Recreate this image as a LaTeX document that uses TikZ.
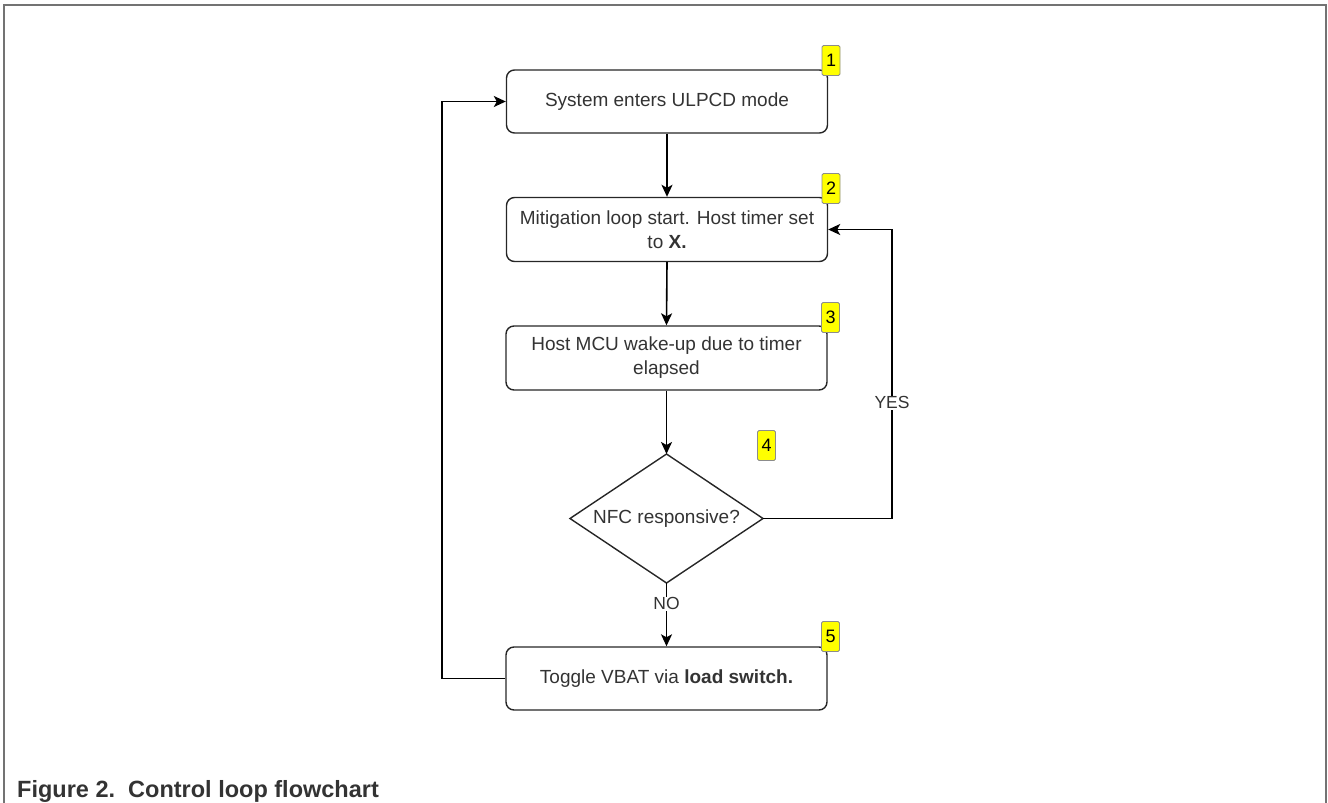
\documentclass[tikz,border=0pt]{standalone}
\usepackage{fontspec}
\setmainfont{Liberation Sans}
\usetikzlibrary{shapes.geometric,arrows.meta}
\definecolor{txt}{HTML}{333333}
\definecolor{badgey}{HTML}{FFFF00}
\begin{document}
\begin{tikzpicture}[x=1pt,y=-1pt,
  stepbox/.style={draw=black!85,line width=1.4pt,rounded corners=8pt,
    minimum width=321pt,inner sep=0pt,align=center,text=txt,
    font=\fontsize{19}{24}\selectfont},
  dectext/.style={text=txt,inner sep=0pt,font=\fontsize{19}{24}\selectfont},
  badge/.style={draw=black!45,fill=badgey,line width=0.8pt,rounded corners=1.5pt,
    minimum width=18pt,minimum height=30pt,inner sep=0pt,
    font=\fontsize{18}{20}\selectfont},
  conn/.style={draw=black,line width=1.6pt,-{Stealth[length=12pt,width=11pt,inset=3pt]}},
  lbl/.style={fill=white,text=txt,inner sep=1pt,font=\fontsize{17.5}{20}\selectfont},
]
\useasboundingbox (0,0) rectangle (1328,803);
\draw[black!55,line width=2pt] (4,803) -- (4,5) -- (1326,5) -- (1326,803);

\node[stepbox,minimum height=63pt] (b1) at (667,101.5) {System enters ULPCD mode};
\node[stepbox,minimum height=64pt] (b2) at (667,229.5) {Mitigation loop start. Host timer set\\to \textbf{X.}};
\node[stepbox,minimum height=64pt] (b3) at (666.5,358) {Host MCU wake-up due to timer\\elapsed};

\coordinate (dN) at (666.5,454);
\coordinate (dS) at (666.5,583);
\coordinate (dE) at (763,518.5);
\coordinate (dW) at (570,518.5);
\draw[black!85,line width=1.4pt,line join=miter] (dN) -- (dE) -- (dS) -- (dW) -- cycle;
\node[dectext] (d) at (666.5,518.5) {NFC responsive?};

\node[stepbox,minimum height=63pt] (b5) at (666.5,678.5) {Toggle VBAT via \textbf{load switch.}};

\node[badge] (n1) at (831,60.5) {1};
\node[badge] (n2) at (831,188.5) {2};
\node[badge] (n3) at (830.5,317.5) {3};
\node[badge] (n4) at (766.5,445.5) {4};
\node[badge] (n5) at (830.5,636.5) {5};

\coordinate (yx) at (892,0);
\coordinate (lx) at (442,0);

\draw[conn] (b1.south) -- (b2.north);
\draw[conn] (b2.south) -- (b3.north);
\draw[conn] (b3.south) -- (dN);
\draw[conn] (dS) -- node[lbl,pos=0.33]{NO} (b5.north);
\draw[conn] (dE) -- (dE -| yx) -- node[lbl,pos=0.4]{YES} (b2.east -| yx) -- (b2.east);
\draw[conn] (b5.west) -- (b5.west -| lx) -- (b1.west -| lx) -- (b1.west);

\node[anchor=base west,inner sep=0pt,text=txt,font=\bfseries\fontsize{23.5}{26}\selectfont] (cap) at (17,797) {Figure 2.\ \ Control loop flowchart};
\end{tikzpicture}
\end{document}
